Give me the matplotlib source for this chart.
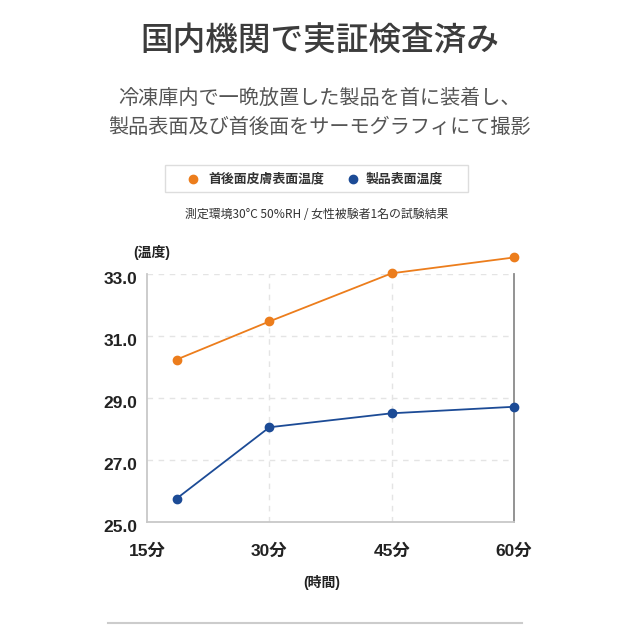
import matplotlib.pyplot as plt
import matplotlib.transforms as mtrans
from matplotlib.lines import Line2D

plt.rcParams['font.family'] = ['Liberation Sans', 'Noto Sans CJK JP', 'DejaVu Sans']

minutes = [18.6, 30, 45, 60]
tick_minutes = [15, 30, 45, 60]
tick_labels = ['15分', '30分', '45分', '60分']
skin_temp = [30.24, 31.47, 33.02, 33.53]
product_temp = [25.76, 28.06, 28.51, 28.72]
y_ticks = [25.0, 27.0, 29.0, 31.0, 33.0]

ORANGE = '#ec7d1c'
BLUE = '#1c4b96'
CJK = ['Noto Sans CJK JP', 'DejaVu Sans']


def main():
    fig = plt.figure(figsize=(6.4, 6.4), dpi=100)
    ax = fig.add_axes([0.230, 0.184, 0.573, 0.388])

    ax.plot(minutes, skin_temp, color=ORANGE, lw=1.3, marker='o', ms=6,
            clip_on=False, zorder=3)
    ax.plot(minutes, product_temp, color=BLUE, lw=1.3, marker='o', ms=6,
            clip_on=False, zorder=3)

    ax.set_xlim(15, 60)
    ax.set_ylim(25, 33)
    ax.set_yticks(y_ticks)
    ax.set_yticklabels([f'{v:.1f}' for v in y_ticks], fontsize=12.5,
                       fontweight='bold', color='#222')
    ax.set_xticks(tick_minutes)
    ax.set_xticklabels(tick_labels, fontsize=12.5, fontweight='bold', color='#222')
    ax.tick_params(length=0)
    ax.tick_params(axis='y', pad=7)
    ax.tick_params(axis='x', pad=15)
    # y labels sit a little below their gridline in the original
    off = mtrans.ScaledTranslation(0, -4 / 100, fig.dpi_scale_trans)
    for lbl in ax.get_yticklabels():
        lbl.set_transform(lbl.get_transform() + off)

    for v in y_ticks[1:]:
        ax.axhline(v, color='#e4e4e4', lw=1, ls=(0, (4, 4)), zorder=1)
    for v in tick_minutes[1:3]:
        ax.axvline(v, color='#e4e4e4', lw=1, ls=(0, (4, 4)), zorder=1)

    ax.spines['top'].set_visible(False)
    ax.spines['left'].set_color('#c8c8c8')
    ax.spines['bottom'].set_color('#c8c8c8')
    ax.spines['right'].set_color('#8a8a8a')
    for s in ax.spines.values():
        s.set_linewidth(1.3)

    fig.text(0.5, 0.935, '国内機関で実証検査済み', ha='center', va='center',
             fontsize=23.5, family=CJK, color='#3c3c3c', fontweight='medium')
    fig.text(0.5, 0.847, '冷凍庫内で一晩放置した製品を首に装着し、', ha='center',
             va='center', fontsize=14.5, family=CJK, color='#555555')
    fig.text(0.5, 0.801, '製品表面及び首後面をサーモグラフィにて撮影', ha='center',
             va='center', fontsize=14.5, family=CJK, color='#555555')

    # legend box
    box = plt.Rectangle((165 / 640, 1 - 192 / 640), 303 / 640, 27 / 640,
                        transform=fig.transFigure, fill=False,
                        edgecolor='#dddddd', lw=1)
    fig.add_artist(box)
    fig.add_artist(Line2D([193 / 640], [1 - 178.5 / 640], marker='o', ms=6,
                          color=ORANGE, transform=fig.transFigure))
    fig.add_artist(Line2D([353 / 640], [1 - 178.5 / 640], marker='o', ms=6,
                          color=BLUE, transform=fig.transFigure))
    fig.text(208 / 640, 1 - 178.5 / 640, '首後面皮膚表面温度', va='center',
             fontsize=9.3, family=CJK, fontweight='bold', color='#333')
    fig.text(366 / 640, 1 - 178.5 / 640, '製品表面温度', va='center',
             fontsize=9.3, family=CJK, fontweight='bold', color='#333')

    fig.text(317 / 640, 1 - 215 / 640, '測定環境30°C 50%RH / 女性被験者1名の試験結果',
             ha='center', va='center', fontsize=8.6, family=CJK, color='#333')

    fig.text(152 / 640, 1 - 252 / 640, '(温度)', ha='center', va='center',
             fontsize=10, fontweight='bold', color='#222')
    fig.text(322 / 640, 1 - 583 / 640, '(時間)', ha='center', va='center',
             fontsize=10, fontweight='bold', color='#222')

    fig.add_artist(Line2D([108 / 640, 522 / 640], [1 - 623 / 640] * 2,
                          color='#cccccc', lw=1.5, transform=fig.transFigure))

    fig.savefig('out.png', dpi=100, facecolor='white')


if __name__ == '__main__':
    main()
